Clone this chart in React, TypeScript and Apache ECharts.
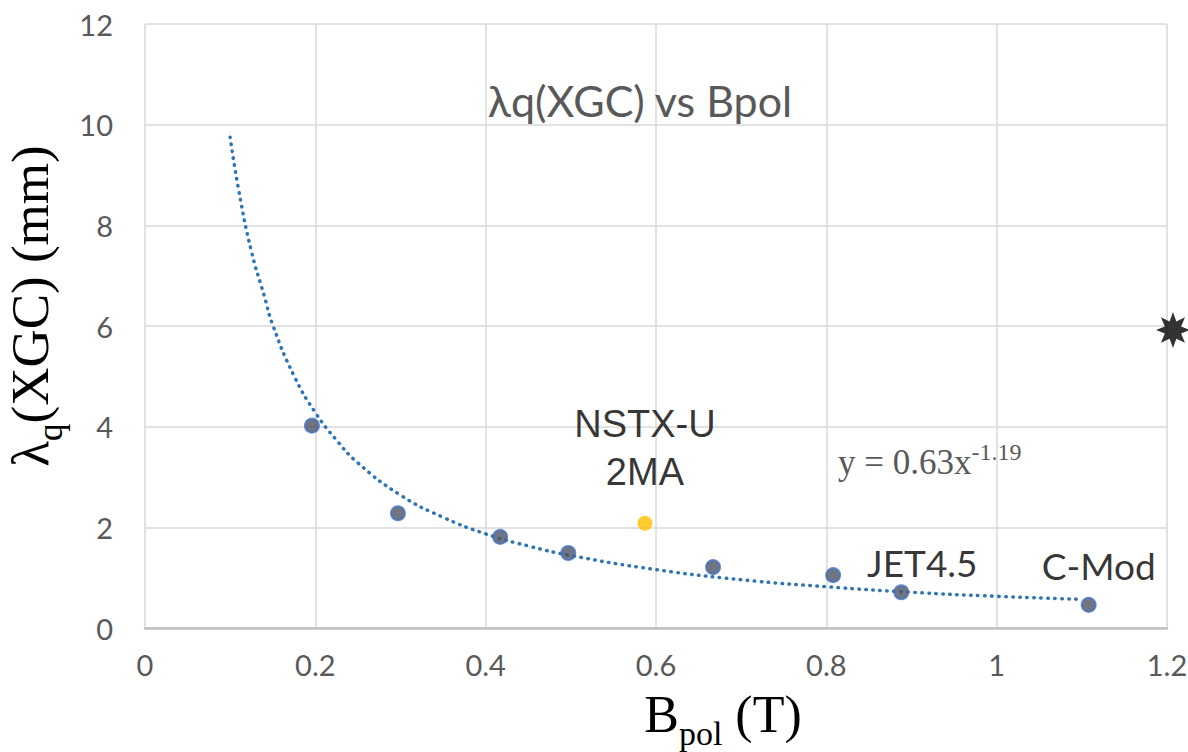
import React, { useEffect, useRef } from "react";
import * as echarts from "echarts";

// Simulation points (XGC)
const bpolValues = [0.196, 0.297, 0.417, 0.497, 0.667, 0.808, 0.888, 1.108];
const lambdaValues = [4.02, 2.28, 1.81, 1.49, 1.21, 1.05, 0.71, 0.46];
const pointLabels = ["", "", "", "", "", "", "JET4.5", "C-Mod"];

// NSTX-U 2MA point
const nstxPoint = [0.587, 2.08];
// Star marker at the right edge
const starPoint = [1.207, 5.92];

// Trend line
const trendX = [0.1, 0.11, 0.125, 0.14, 0.15, 0.175, 0.2, 0.225, 0.25, 0.3, 0.35, 0.4, 0.45, 0.5, 0.6, 0.7, 0.8, 0.9, 1.0, 1.1];
const trendY = [9.75, 8.7, 7.48, 6.6, 6.02, 5.01, 4.28, 3.73, 3.28, 2.64, 2.2, 1.87, 1.63, 1.44, 1.16, 0.96, 0.82, 0.71, 0.63, 0.57];

const xTicks = { min: 0, max: 1.2, interval: 0.2 };
const yTicks = { min: 0, max: 12, interval: 2 };

function starPath(): string {
  const pts: string[] = [];
  for (let i = 0; i < 16; i++) {
    const a = (i * Math.PI) / 8 - Math.PI / 2;
    const r = i % 2 === 0 ? 10 : 5.2;
    pts.push(`${(r * Math.cos(a)).toFixed(3)} ${(r * Math.sin(a)).toFixed(3)}`);
  }
  return "path://M" + pts.join(" L") + " Z";
}

export default function App() {
  const ref = useRef<HTMLDivElement>(null);
  useEffect(() => {
    if (!ref.current) return;
    const chart = echarts.init(ref.current, null, { renderer: "svg" });
    const tickFont = { color: "#595959", fontSize: 29, fontFamily: "Lato" };
    chart.setOption({
      animation: false,
      backgroundColor: "#ffffff",
      title: {
        text: "λq(XGC) vs Bpol",
        left: 635,
        top: 74,
        textAlign: "center",
        textStyle: { color: "#595959", fontSize: 43, fontWeight: "normal", fontFamily: "Lato" },
      },
      grid: { left: 145, right: 21, top: 24, bottom: 124, containLabel: false, outerBoundsMode: "none" },
      xAxis: {
        type: "value",
        min: xTicks.min,
        max: xTicks.max,
        interval: xTicks.interval,
        axisLine: { show: true, lineStyle: { color: "#bfbfbf", width: 2.5 } },
        axisTick: { show: false },
        axisLabel: { ...tickFont, margin: 22 },
        splitLine: { show: true, lineStyle: { color: "#d9d9d9", width: 1.5 } },
        name: "{b|B}{sub|pol}{b| (T)}",
        nameLocation: "middle",
        nameGap: 56,
        nameTextStyle: {
          padding: [0, 0, 0, 134],
          rich: {
            b: { fontFamily: "Liberation Serif", fontSize: 52, color: "#000", verticalAlign: "bottom", lineHeight: 56 },
            sub: { fontFamily: "Liberation Serif", fontSize: 34, color: "#000", verticalAlign: "bottom", lineHeight: 46, padding: [0, 0, -10, 0] },
          },
        },
      },
      yAxis: {
        type: "value",
        min: yTicks.min,
        max: yTicks.max,
        interval: yTicks.interval,
        axisLine: { show: false },
        axisTick: { show: false },
        axisLabel: { ...tickFont, margin: 32 },
        splitLine: { show: true, lineStyle: { color: "#d9d9d9", width: 1.5 } },
        name: "{b|λ}{sub|q}{b|(XGC) (mm)}",
        nameLocation: "middle",
        nameGap: 56,
        nameRotate: 90,
        nameTextStyle: {
          padding: [0, 0, 0, 40],
          rich: {
            b: { fontFamily: "Liberation Serif", fontSize: 53, color: "#000", verticalAlign: "bottom", lineHeight: 56 },
            sub: { fontFamily: "Liberation Serif", fontSize: 35, color: "#000", verticalAlign: "bottom", lineHeight: 44, padding: [0, 0, -12, 0] },
          },
        },
      },
      graphic: [
        {
          type: "text",
          left: 838,
          top: 440,
          style: {
            text: "{m|y = 0.63x}{s|-1.19}",
            rich: {
              m: { fontFamily: "Liberation Serif", fontSize: 35, fill: "#595959", verticalAlign: "bottom", lineHeight: 40 },
              s: { fontFamily: "Liberation Serif", fontSize: 24, fill: "#595959", verticalAlign: "bottom", lineHeight: 40, padding: [0, 0, 16, 0] },
            },
          },
        },
      ],
      series: [
        {
          type: "line",
          name: "trend",
          data: trendX.map((x, i) => [x, trendY[i]]),
          showSymbol: false,
          symbol: "none",
          smooth: true,
          lineStyle: { color: "#2e75b6", width: 3.5, type: [0.5, 6.5], cap: "round" },
          z: 2,
        },
        {
          type: "scatter",
          name: "XGC",
          data: bpolValues.map((x, i) => ({
            value: [x, lambdaValues[i]],
            label: pointLabels[i]
              ? {
                  show: true,
                  formatter: pointLabels[i],
                  position: "top",
                  offset: i === 6 ? [21, 2] : [10, -8],
                  fontFamily: "Lato",
                  fontSize: 37,
                  color: "#000",
                }
              : { show: false },
          })),
          symbol: "circle",
          symbolSize: 14,
          itemStyle: { color: "#4b5364", borderColor: "#4472c4", borderWidth: 2 },
          z: 3,
        },
        {
          type: "scatter",
          name: "NSTX-U 2MA",
          data: [
            {
              value: nstxPoint,
              label: {
                show: true,
                formatter: "NSTX-U\n2MA",
                position: "top",
                offset: [0, -15],
                fontFamily: "Liberation Sans",
                fontSize: 38,
                lineHeight: 48,
                align: "center",
                color: "#000",
              },
            },
          ],
          symbol: "circle",
          symbolSize: 15,
          itemStyle: { color: "#ffc000" },
          z: 3,
        },
        {
          type: "scatter",
          name: "star",
          data: [starPoint],
          symbol: starPath(),
          symbolSize: [34, 36],
          clip: false,
          itemStyle: { color: "#000" },
          z: 4,
        },
      ],
    });
    return () => chart.dispose();
  }, []);
  return <div ref={ref} style={{ position: "fixed", left: 0, top: 0, width: 1188, height: 752 }} />;
}
